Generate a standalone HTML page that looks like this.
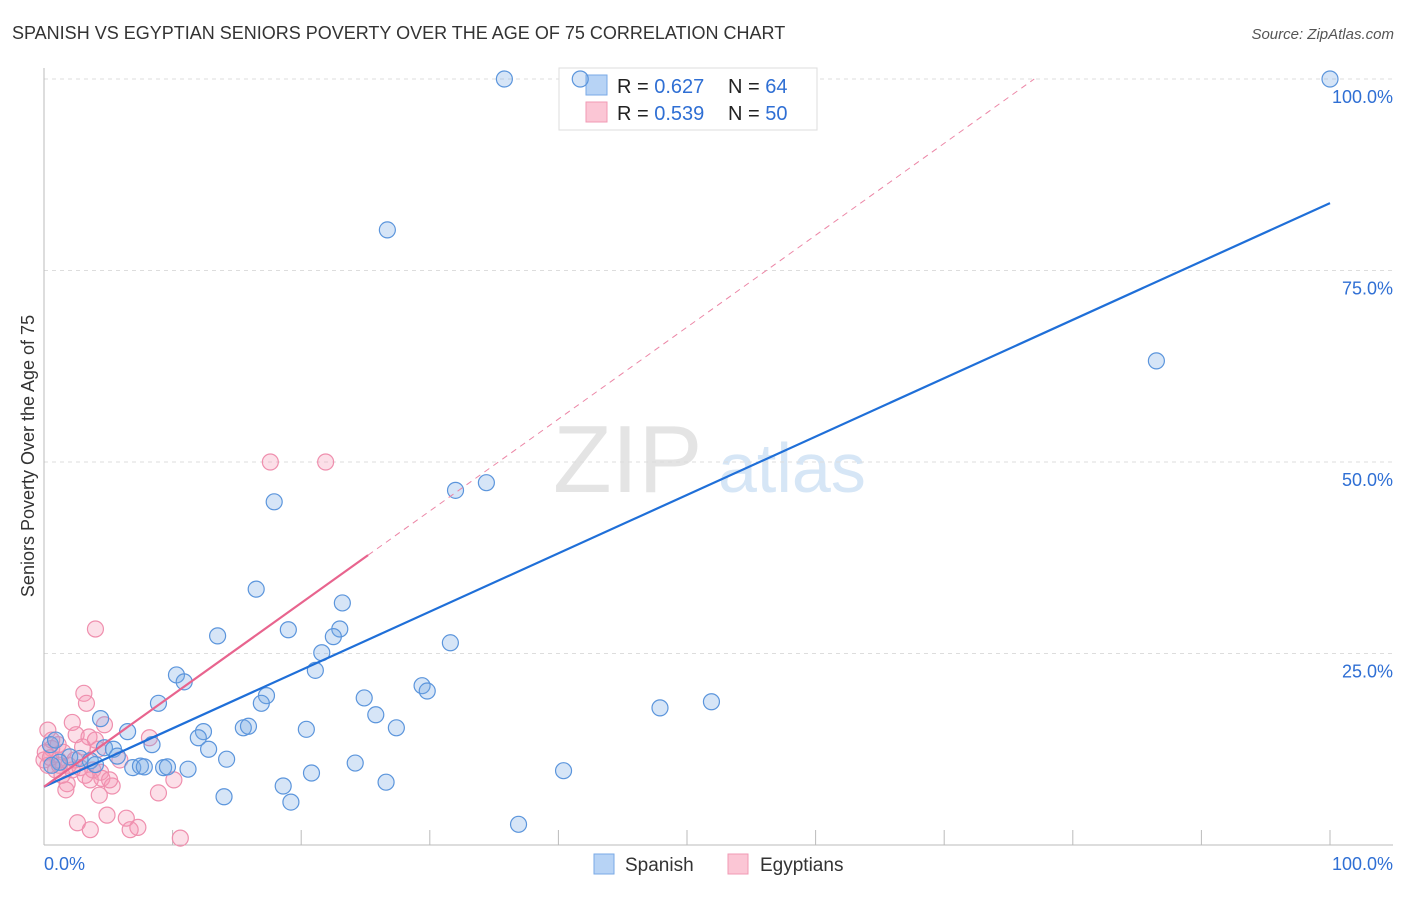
<!DOCTYPE html>
<html><head><meta charset="utf-8"><style>
body{margin:0;background:#fff;font-family:"Liberation Sans",sans-serif;}
svg text{font-family:"Liberation Sans",sans-serif;}
</style></head><body>
<svg id="chart" width="1406" height="892">
<text x="12" y="39" font-size="18" fill="#333">SPANISH VS EGYPTIAN SENIORS POVERTY OVER THE AGE OF 75 CORRELATION CHART</text>
<text x="1394" y="39" font-size="15" fill="#555" font-style="italic" text-anchor="end">Source: ZipAtlas.com</text>
<text x="553" y="492" font-size="96" fill="#e4e4e4" font-family="Liberation Serif">ZIP</text>
<text x="718" y="492" font-size="70" fill="#d6e6f6">atlas</text>
<g id="grid"></g><g id="axes"></g>
<g>
<rect x="559" y="68" width="258" height="62" fill="#fff" stroke="#ddd"/>
<rect x="586" y="75" width="21" height="20" fill="#b7d3f5" stroke="#7aaae6"/>
<rect x="586" y="102" width="21" height="20" fill="#fbc6d5" stroke="#f09ab4"/>
<text x="617" y="93" font-size="20" fill="#222">R = <tspan fill="#2f6fd4">0.627</tspan></text>
<text x="728" y="93" font-size="20" fill="#222">N = <tspan fill="#2f6fd4">64</tspan></text>
<text x="617" y="120" font-size="20" fill="#222">R = <tspan fill="#2f6fd4">0.539</tspan></text>
<text x="728" y="120" font-size="20" fill="#222">N = <tspan fill="#2f6fd4">50</tspan></text>
</g>
<g id="pts"></g><g id="lines"></g>
<text transform="translate(34,456) rotate(-90)" font-size="18" fill="#333" text-anchor="middle">Seniors Poverty Over the Age of 75</text>
<g><rect x="594" y="854" width="20" height="20" fill="#b7d3f5" stroke="#7aaae6"/><text x="625" y="871" font-size="19" fill="#333">Spanish</text></g>
<g><rect x="728" y="854" width="20" height="20" fill="#fbc6d5" stroke="#f09ab4"/><text x="760" y="871" font-size="19" fill="#333">Egyptians</text></g>
</svg>
<script>
const blueX=[35.8,41.7,100,26.7,86.5,32.0,34.4,17.9,16.5,23.2,19.0,13.5,23.0,22.5,31.6,21.6,21.1,10.3,10.9,29.4,29.8,24.9,17.3,16.9,8.9,25.8,4.4,15.5,15.9,20.4,27.4,6.5,12.4,12.0,8.4,12.8,4.7,5.4,5.7,14.2,24.2,6.9,7.5,7.8,9.3,9.6,11.2,40.4,20.8,18.6,26.6,14.0,19.2,36.9,47.9,51.9,2.0,1.2,0.6,2.8,3.6,0.5,0.9,4.0];
const blueY=[100,100,100,80.3,63.2,46.3,47.3,44.8,33.4,31.6,28.1,27.3,28.2,27.2,26.4,25.1,22.8,22.2,21.3,20.8,20.1,19.2,19.5,18.5,18.5,17.0,16.5,15.3,15.5,15.1,15.3,14.8,14.8,14.0,13.1,12.5,12.7,12.5,11.6,11.2,10.7,10.1,10.3,10.2,10.1,10.2,9.9,9.7,9.4,7.7,8.2,6.3,5.6,2.7,17.9,18.7,11.5,10.8,10.4,11.3,11.0,13.1,13.7,10.5];
const pinkX=[17.6,21.9,4.0,3.1,3.3,2.2,4.7,2.5,3.5,0.3,0.6,1.5,3.0,8.2,1.1,1.9,2.8,3.8,4.4,4.5,5.3,1.8,4.3,4.9,2.6,3.6,6.7,6.4,7.3,8.9,10.1,10.6,0.3,0.9,1.4,0,0.1,0.5,1.2,2.2,4.2,5.1,1.7,3.6,5.9,0.6,1.1,2.4,3.2,4.0];
const pinkY=[50,50,28.2,19.8,18.5,16.0,15.7,14.4,14.1,15.0,12.6,12.1,12.8,14.0,11.1,10.4,10.1,9.8,9.5,8.7,7.7,8.0,6.5,3.9,2.9,2.0,2.0,3.5,2.3,6.8,8.5,0.9,10.4,9.8,9.1,11.1,12.1,11.4,10.4,9.8,12.5,8.5,7.2,8.5,11.1,13.7,13.1,11.1,9.1,13.7];
const blueLine=[7.6,83.8];
const pinkLine=[7.6,1.2];
const xTicks=["0.0%","100.0%"];
const yTicks=[25,50,75,100];
const X0=44,X1=1330,Y0=845,Y1=79;
const sx=v=>X0+(X1-X0)*v/100, sy=v=>Y0-(Y0-Y1)*v/100;
const NS="http://www.w3.org/2000/svg";
function mk(p,t,a){const e=document.createElementNS(NS,t);for(const k in a)e.setAttribute(k,a[k]);p.appendChild(e);return e;}
const grid=document.getElementById('grid'),axes=document.getElementById('axes'),pts=document.getElementById('pts'),lines=document.getElementById('lines');
yTicks.forEach(v=>{
 const l=mk(grid,'line',{x1:X0,x2:1393,y1:sy(v),y2:sy(v),stroke:'#ddd','stroke-dasharray':'4,4'});
 
 
 const t=mk(grid,'text',{x:1393,y:sy(v)+24,'font-size':18,fill:'#2f6fd4','text-anchor':'end'});t.textContent=v.toFixed(1)+'%';
 
 
});
const ya=mk(axes,'line',{x1:X0,x2:X0,y1:68,y2:Y0,stroke:'#bbb'});


const xa=mk(axes,'line',{x1:X0,x2:1393,y1:Y0,y2:Y0,stroke:'#bbb'});


for(let i=1;i<=10;i++){const tk=mk(axes,'line',{x1:sx(i*10),x2:sx(i*10),y1:830,y2:Y0,stroke:'#bbb'});
 
 }
[[0,'start',44],[100,'end',1393]].forEach((d,i)=>{const t=mk(axes,'text',{x:d[2],y:870,'font-size':18,fill:'#2f6fd4','text-anchor':d[1]});t.textContent=xTicks[i];
 
 });
pinkX.forEach((x,i)=>{const c=mk(pts,'circle',{cx:sx(x),cy:sy(pinkY[i]),r:8,fill:'rgba(245,150,180,0.3)',stroke:'#ef8fae','stroke-width':1.2});
 
 });
blueX.forEach((x,i)=>{const c=mk(pts,'circle',{cx:sx(x),cy:sy(blueY[i]),r:8,fill:'rgba(120,170,230,0.3)',stroke:'#5b95dc','stroke-width':1.2});
 
 });
const bl=mk(lines,'line',{x1:sx(0),y1:sy(blueLine[0]),x2:sx(100),y2:sy(blueLine[1]),stroke:'#1f6fd8','stroke-width':2.2});


const pe=(100-pinkLine[0])/pinkLine[1];
const pd=mk(lines,'line',{x1:sx(25.2),y1:sy(pinkLine[0]+pinkLine[1]*25.2),x2:sx(pe),y2:sy(100),stroke:'#ec86a6','stroke-width':1,'stroke-dasharray':'6,5'});


const ps=mk(lines,'line',{x1:sx(0),y1:sy(pinkLine[0]),x2:sx(25.2),y2:sy(pinkLine[0]+pinkLine[1]*25.2),stroke:'#e8648e','stroke-width':2.2});


</script>
</body></html>
